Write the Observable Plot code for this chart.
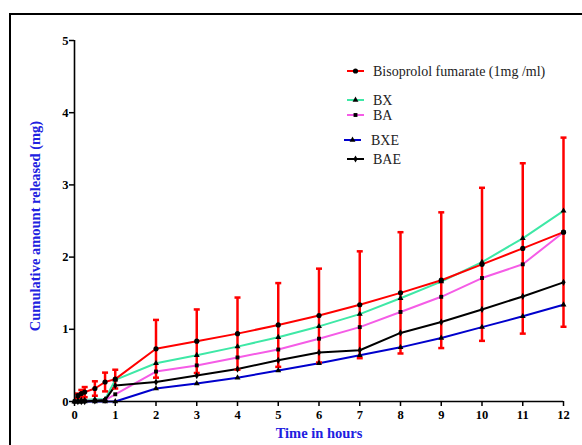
<!DOCTYPE html>
<html>
<head>
<meta charset="utf-8">
<script src="https://cdn.jsdelivr.net/npm/d3@7"></script>
<script src="https://cdn.jsdelivr.net/npm/@observablehq/plot@0.6"></script>
<style>
  html, body { margin: 0; padding: 0; background: #fff; }
  #wrap { position: relative; width: 582px; height: 445px; overflow: hidden; }
  #border { position: absolute; left: 9px; top: 13px; width: 700px; height: 600px;
            border-left: 2px solid #000; border-top: 2px solid #000; }
  #chart, #legend { position: absolute; left: 0; top: 0; }
</style>
</head>
<body>
<div id="wrap"><div id="border"></div><div id="chart"></div><svg id="legend" width="582" height="445"></svg></div>
<script>
const times = [0, 0.083, 0.167, 0.25, 0.5, 0.75, 1, 2, 3, 4, 5, 6, 7, 8, 9, 10, 11, 12];
const seriesNames = ["Bisoprolol fumarate (1mg /ml)", "BX", "BA", "BXE", "BAE"];
const seriesColors = ["#ff0000", "#3ee8a6", "#f55ce6", "#0000cc", "#000000"];
const seriesSymbols = ["circle", "triangle", "square", "triangle", "diamond"];
const bisoprolol = [null, 0.08, 0.11, 0.13, 0.18, 0.27, 0.31, 0.73, 0.835, 0.94, 1.06, 1.19, 1.34, 1.505, 1.68, 1.90, 2.12, 2.345];
const bisoprololErr = [null, 0.03, 0.05, 0.07, 0.10, 0.13, 0.13, 0.40, 0.44, 0.50, 0.58, 0.65, 0.74, 0.84, 0.94, 1.06, 1.18, 1.31];
const bx  = [0, 0.01, 0.02, 0.02, 0.03, 0.03, 0.30, 0.53, 0.64, 0.76, 0.89, 1.04, 1.21, 1.43, 1.66, 1.93, 2.26, 2.64];
const ba  = [0, 0, 0, 0.01, 0.01, 0.02, 0.10, 0.415, 0.50, 0.61, 0.72, 0.87, 1.03, 1.24, 1.45, 1.71, 1.90, 2.345];
const bxe = [0, 0, 0, 0, 0, 0, 0, 0.18, 0.25, 0.33, 0.43, 0.53, 0.64, 0.75, 0.88, 1.03, 1.18, 1.34];
const bae = [0, 0, 0, 0, 0.01, 0.02, 0.22, 0.27, 0.36, 0.45, 0.57, 0.68, 0.71, 0.95, 1.10, 1.275, 1.455, 1.65];
const xTicks = [0, 1, 2, 3, 4, 5, 6, 7, 8, 9, 10, 11, 12];
const yTicks = [0, 1, 2, 3, 4, 5];
const xLabel = "Time in hours";
const yLabel = "Cumulative amount released (mg)";

const allSeries = [bisoprolol, bx, ba, bxe, bae];
const rows = [];
allSeries.forEach((vals, si) => vals.forEach((v, i) => {
  rows.push({series: seriesNames[si], t: times[i], v, err: si === 0 ? bisoprololErr[i] : null});
}));
const errRows = rows.filter(d => d.err != null && d.v != null)
  .map(d => ({t: d.t, lo: d.v - d.err, hi: d.v + d.err}));

const capSymbol = {
  draw(ctx, size) {
    const w = Math.sqrt(size / Math.PI);
    ctx.moveTo(-w, 0); ctx.lineTo(w, 0);
  }
};

const drawOrder = [1, 2, 3, 4, 0];
const lineMarks = drawOrder.flatMap(si => {
  const data = rows.filter(d => d.series === seriesNames[si]);
  const marks = [];
  if (si === 0) {
    marks.push(Plot.ruleX(errRows, {x: "t", y1: "lo", y2: "hi", stroke: seriesColors[0], strokeWidth: 2.5}));
    marks.push(Plot.dot(errRows, {x: "t", y: "hi", symbol: capSymbol, r: 3, stroke: seriesColors[0], strokeWidth: 2.5}));
    marks.push(Plot.dot(errRows, {x: "t", y: "lo", symbol: capSymbol, r: 3, stroke: seriesColors[0], strokeWidth: 2.5}));
  }
  marks.push(Plot.line(data, {x: "t", y: "v", stroke: seriesColors[si], strokeWidth: 2}));
  return marks;
});
const markerMarks = drawOrder.map(si =>
  Plot.dot(rows.filter(d => d.series === seriesNames[si] && d.v != null),
    {x: "t", y: "v", symbol: seriesSymbols[si], r: si === 0 ? 2.6 : 2.2, fill: "#000", stroke: "none"}));

const chart = Plot.plot({
  width: 582, height: 445,
  marginLeft: 74, marginRight: 19, marginTop: 40, marginBottom: 44,
  style: {fontFamily: "'Liberation Serif', 'Times New Roman', serif", fontSize: "12px", color: "#000", background: "transparent", overflow: "visible"},
  x: {domain: [0, 12]},
  y: {domain: [0, 5]},
  marks: [
    ...lineMarks,
    ...markerMarks,
    Plot.ruleY([0], {stroke: "#000", strokeWidth: 1.6}),
    Plot.ruleX([0], {y1: 0, y2: 5, stroke: "#000", strokeWidth: 1.6}),
    Plot.axisX({ticks: xTicks, tickFormat: d3.format("d"), tickSize: 5, tickPadding: 4, fontWeight: "bold", fontSize: 12.5, strokeWidth: 1.5, label: null}),
    Plot.axisY({ticks: yTicks, tickFormat: d3.format("d"), tickSize: 5, tickPadding: 1, fontWeight: "bold", fontSize: 12.5, strokeWidth: 1.5, label: null}),
    Plot.text([xLabel], {frameAnchor: "bottom", dy: 36, fill: "#2020e0", fontWeight: "bold", fontSize: 14.5})
  ]
});
document.getElementById("chart").appendChild(chart);

const lg = d3.select("#legend");
// Y axis title
lg.append("text").attr("transform", "translate(35,226) rotate(-90)")
  .attr("text-anchor", "middle").attr("dy", "0.35em")
  .attr("font-family", "'Liberation Serif', 'Times New Roman', serif").attr("font-size", 14.5)
  .attr("font-weight", "bold").attr("fill", "#2020e0").text(yLabel);

// Legend
const legendY = [71, 100, 115, 140, 159];
const legendX0 = [347, 347, 347, 344, 347];
const legendTextX = [373, 373, 373, 371, 373];
const symGen = {circle: d3.symbolCircle, triangle: d3.symbolTriangle, square: d3.symbolSquare, diamond: d3.symbolDiamond};
seriesNames.forEach((name, i) => {
  const g = lg.append("g");
  g.append("line").attr("x1", legendX0[i]).attr("x2", legendX0[i] + 17)
    .attr("y1", legendY[i]).attr("y2", legendY[i])
    .attr("stroke", seriesColors[i]).attr("stroke-width", 2);
  g.append("path").attr("transform", `translate(${legendX0[i] + 8.5},${legendY[i]})`)
    .attr("d", d3.symbol(symGen[seriesSymbols[i]], i === 0 ? 21 : 15)()).attr("fill", "#000");
  g.append("text").attr("x", legendTextX[i]).attr("y", legendY[i]).attr("dy", "0.35em")
    .attr("font-family", "'Liberation Serif', 'Times New Roman', serif").attr("font-size", 14)
    .attr("fill", "#222").text(name);
});
</script>
</body>
</html>
